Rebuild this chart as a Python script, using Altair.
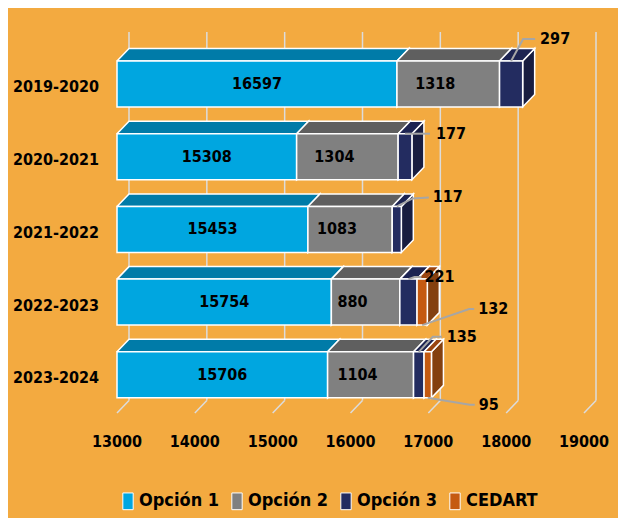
import json
import altair as alt
import pandas as pd

# ---------------- data ----------------
categories = ["2019-2020", "2020-2021", "2021-2022", "2022-2023", "2023-2024"]
series = ["Opción 1", "Opción 2", "Opción 3", "CEDART"]
opcion1 = [16597, 15308, 15453, 15754, 15706]
opcion2 = [1318, 1304, 1083, 880, 1104]
opcion3 = [297, 177, 117, 221, 135]
cedart = [0, 0, 0, 132, 95]
x_ticks = [13000, 14000, 15000, 16000, 17000, 18000, 19000]

# ---------------- style ----------------
FONT = "DejaVu Sans Condensed"
FS = 16
FW = "bold"
BG = "#F3AA40"
front_colors = ["#00A6E0", "#808080", "#232C60", "#C55A11"]
top_colors = ["#007BA8", "#5F5F5F", "#1D2452", "#9A4510"]
side_colors = ["#006A90", "#505050", "#181D40", "#84400F"]
GRID = "#DCDCDC"
LEADER = "#A6A6A6"

X_MIN, X_MAX = 13000, 19000
Y_MIN, Y_MAX = -0.715, 4.525
W, H = 467, 381
PX_X = W / (X_MAX - X_MIN)
PX_Y = H / (Y_MAX - Y_MIN)
DEPTH_X = 12 / PX_X
DEPTH_Y = 12.5 / PX_Y
HALF = 23 / PX_Y
INNER_DX = [0, -13, 0, 0]   # pixel shift of in-bar labels
TICK_LABEL_DY = 29          # px below the front floor edge
CAT_LABEL_DX = -18          # px left of the plot edge
CAT_LABEL_DY = 3.5          # px below the row centre

# small-value labels: anchor edge, elbow px, end px, text px
small_labels = {
    (0, 2): ("top", (12, -22), (24, -22), (29, -22)),
    (1, 2): ("top", (12, 0), (25, 0), (31, 0)),
    (2, 2): ("top", (16, -8), (32, -9), (36, -9)),
    (3, 2): ("top", (6, -2), (13, -2), (16, -2)),
    (3, 3): ("bottom", (47, -16), (52, -16), (56, -16)),
    (4, 2): ("top", (14, -15), (23, -15), (28, -15)),
    (4, 3): ("bottom", (42, 7), (47, 7), (51, 7)),
}

values = [opcion1, opcion2, opcion3, cedart]

fronts, polys, inner, leaders, outer = [], [], [], [], []
pid = 0
for i, cat in enumerate(categories):
    cum = 0
    for s, name in enumerate(series):
        v = values[s][i]
        if not v:
            continue
        x0 = max(cum, X_MIN)
        x1 = cum + v
        cum = x1
        yt, yb = i - HALF, i + HALF
        fronts.append({"series": name, "x0": x0, "x1": x1, "yt": yt, "yb": yb})
        top = [(x0, yt), (x1, yt), (x1 + DEPTH_X, yt - DEPTH_Y), (x0 + DEPTH_X, yt - DEPTH_Y), (x0, yt)]
        side = [(x1, yt), (x1 + DEPTH_X, yt - DEPTH_Y), (x1 + DEPTH_X, yb - DEPTH_Y), (x1, yb), (x1, yt)]
        for kind, pts in (("side", side), ("top", top)):
            pid += 1
            for k, (px, py) in enumerate(pts):
                polys.append({"pid": pid, "kind": kind, "face": f"{kind}-{name}",
                              "k": k, "x": px, "y": py})
        if s < 2:
            inner.append({"x": (x0 + x1) / 2 + INNER_DX[s] / PX_X, "y": i, "t": str(v)})
        elif (i, s) in small_labels:
            edge, el, en, tx = small_labels[(i, s)]
            ax = (x0 + x1) / 2
            ay = yt if edge == "top" else yb
            for k, (dx, dy) in enumerate([(0, 0), el, en]):
                leaders.append({"lid": f"{i}-{s}", "k": k,
                                "x": ax + dx / PX_X, "y": ay + dy / PX_Y})
            outer.append({"x": ax + tx[0] / PX_X, "y": ay + tx[1] / PX_Y, "t": str(v)})

fronts = pd.DataFrame(fronts)
polys = pd.DataFrame(polys)
inner = pd.DataFrame(inner)
leaders = pd.DataFrame(leaders)
outer = pd.DataFrame(outer)
cats = pd.DataFrame({"t": categories, "x": [X_MIN + CAT_LABEL_DX / PX_X] * len(categories),
                     "y": [i + CAT_LABEL_DY / PX_Y for i in range(len(categories))]})

grid = pd.DataFrame({"x": [t + DEPTH_X for t in x_ticks], "xf": x_ticks,
                     "y0": [Y_MIN] * len(x_ticks), "yb": [Y_MAX - DEPTH_Y] * len(x_ticks),
                     "yf": [Y_MAX] * len(x_ticks),
                     "ylab": [Y_MAX + TICK_LABEL_DY / PX_Y] * len(x_ticks),
                     "t": [str(t) for t in x_ticks]})

xs = alt.Scale(domain=[X_MIN, X_MAX], nice=False, zero=False)
ys = alt.Scale(domain=[Y_MIN, Y_MAX], nice=False, zero=False, reverse=True)


def txt(df, align, xf="x:Q", yf="y:Q"):
    return alt.Chart(df).mark_text(font=FONT, fontSize=FS, fontWeight=FW, color="black",
                                   baseline="middle", align=align).encode(
        x=alt.X(xf, scale=xs, axis=None),
        y=alt.Y(yf, scale=ys, axis=None),
        text="t:N",
    )


grid_v = alt.Chart(grid).mark_rule(color=GRID, strokeWidth=1.5).encode(
    x=alt.X("x:Q", scale=xs, axis=None),
    y=alt.Y("y0:Q", scale=ys, axis=None),
    y2="yb:Q",
)
grid_d = alt.Chart(grid).mark_rule(color=GRID, strokeWidth=1.5).encode(
    x=alt.X("x:Q", scale=xs, axis=None),
    x2="xf:Q",
    y=alt.Y("yb:Q", scale=ys, axis=None),
    y2="yf:Q",
)
tick_text = txt(grid, "center", "xf:Q", "ylab:Q")
cat_text = txt(cats, "right")

face_domain = [f"side-{n}" for n in series] + [f"top-{n}" for n in series]
face_range = side_colors + top_colors


def poly_layer(kind):
    return alt.Chart(polys[polys["kind"] == kind]).mark_line(
        stroke="white", strokeWidth=1.5, strokeJoin="miter"
    ).encode(
        x=alt.X("x:Q", scale=xs, axis=None),
        y=alt.Y("y:Q", scale=ys, axis=None),
        fill=alt.Fill("face:N", scale=alt.Scale(domain=face_domain, range=face_range), legend=None),
        detail="pid:N",
        order="k:Q",
    )


sides = poly_layer("side")
tops = poly_layer("top")

front = alt.Chart(fronts).mark_bar(stroke="white", strokeWidth=1.5).encode(
    x=alt.X("x0:Q", scale=xs, axis=None),
    x2="x1:Q",
    y=alt.Y("yt:Q", scale=ys, axis=None),
    y2="yb:Q",
    color=alt.Color("series:N", scale=alt.Scale(domain=series, range=front_colors),
                    sort=series,
                    legend=alt.Legend(
                        title=None, orient="none", direction="horizontal", columns=4,
                        legendX=2, legendY=460,
                        symbolType="M-0.62,-1H0.62V1H-0.62Z", symbolSize=280,
                        symbolStrokeColor="white", symbolStrokeWidth=1,
                        labelFont=FONT, labelFontSize=18, labelFontWeight=FW,
                        labelColor="black", labelOffset=2, columnPadding=8)),
)

inner_text = txt(inner, "center")

leader_lines = alt.Chart(leaders).mark_line(color=LEADER, strokeWidth=2).encode(
    x=alt.X("x:Q", scale=xs, axis=None),
    y=alt.Y("y:Q", scale=ys, axis=None),
    detail="lid:N",
    order="k:Q",
)

outer_text = txt(outer, "left")

chart = alt.layer(
    grid_v, grid_d, tick_text, cat_text, sides, tops, front, inner_text, leader_lines, outer_text
).properties(
    width=W, height=H, background=BG,
    padding={"left": 109, "top": 24, "right": 34, "bottom": 105},
    autosize=alt.AutoSizeParams(type="none"),
).configure_view(stroke=None)

chart.save("out.html", embed_options={"renderer": "svg", "actions": False})
